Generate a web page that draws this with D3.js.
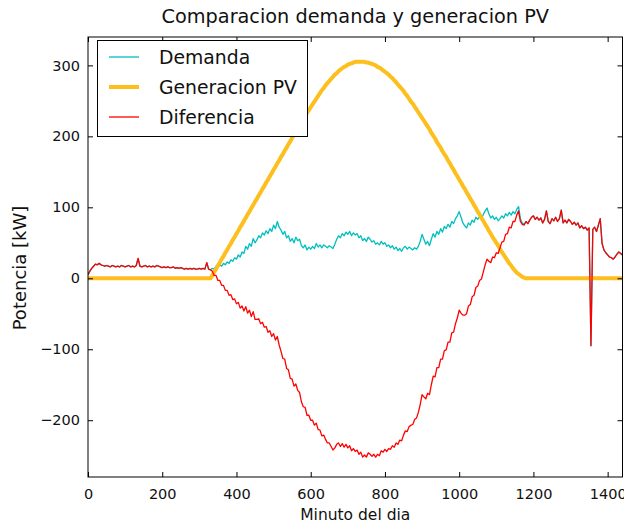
<!DOCTYPE html>
<html>
<head>
<meta charset="utf-8">
<script src="https://cdn.jsdelivr.net/npm/d3@7"></script>
<style>
  html, body { margin: 0; padding: 0; background: #fff; }
  svg { display: block; font-family: "DejaVu Sans", sans-serif; }
</style>
</head>
<body>
<svg id="chart" width="624" height="524"></svg>
<script>
// Demand sampled every 5 minutes from minute 0 to 1440 (kW), one row per hour
const stepMin = 5;
const demanda = [
  5,10,14,17,20,19,21,19,18,17,18,17,
  16,18,17,16,17,16,18,17,16,17,18,16,
  17,16,18,28,17,16,17,18,16,17,16,17,
  16,18,17,16,15,16,15,16,15,15,16,14,
  15,14,15,14,13,14,13,14,13,14,13,13,
  14,13,14,13,22,13,12,14,13,17,15,19,
  17,21,19,23,21,26,24,29,27,33,30,37,
  35,45,41,49,45,56,50,54,60,57,64,61,
  67,63,70,66,75,70,80,72,68,62,66,57,
  60,52,56,50,58,53,55,46,43,47,40,44,
  41,45,42,49,44,47,43,47,45,43,46,44,
  42,48,55,60,57,63,60,65,62,66,60,64,
  61,63,57,60,53,56,52,58,55,51,53,48,
  50,47,52,48,50,45,47,43,46,41,44,39,
  42,38,43,45,41,44,42,40,43,41,45,52,
  62,55,48,52,46,55,63,58,66,62,70,65,
  73,70,76,72,80,77,84,88,94,86,78,74,
  71,78,75,82,79,86,83,87,84,90,95,99,
  91,85,88,83,86,81,84,88,85,91,88,93,
  89,94,91,97,101,84,78,76,80,77,82,86,
  88,83,86,82,85,78,83,95,80,77,84,81,
  86,80,84,96,78,82,78,83,80,76,79,75,
  78,71,74,70,72,68,71,-95,69,72,66,75,
  84,49,40,36,33,30,29,27,30,34,37,35,
  33
];

// PV generation every 5 minutes from minute 330 to 1190 (kW); zero outside
const pvStartMin = 330;
const generacionPV = [
  0,4,9,13,18,22,27,31,36,40,45,49,54,58,
  63,67,72,76,81,85,90,94,99,103,108,112,
  117,121,126,130,135,139,144,148,153,157,162,166,
  171,175,180,184,189,193,198,202,207,211,216,220,
  224,229,233,237,241,245,249,253,257,261,265,268,
  272,275,278,281,284,287,289,292,294,296,298,299,
  301,302,303,304,305,305,305,305,305,305,304,304,
  303,302,301,300,298,297,295,293,291,289,287,284,
  282,279,276,273,270,267,264,260,257,253,249,246,
  242,238,234,230,226,222,218,214,210,205,201,197,
  192,188,184,179,175,171,166,162,157,153,148,144,
  139,135,130,126,121,117,112,108,103,99,94,90,
  85,81,76,72,67,63,58,54,50,46,41,37,
  33,29,25,21,18,14,11,8,6,4,2,1,
  0,0,0
];

const xTicks = [0, 200, 400, 600, 800, 1000, 1200, 1400];
const yTicks = [-200, -100, 0, 100, 200, 300];
const seriesNames = ["Demanda", "Generacion PV", "Diferencia"];
const seriesColors = ["#00bfbf", "#fdbf1e", "#ff0000"];

const minutes = demanda.map((_, i) => i * stepMin);
const pvAt = t => {
  const k = (t - pvStartMin) / stepMin;
  return (k >= 0 && k < generacionPV.length) ? generacionPV[k] : 0;
};
const demandPts = minutes.map((t, i) => [t, demanda[i]]);
const pvPts = minutes.map(t => [t, pvAt(t)]);
const diffPts = minutes.map((t, i) => [t, demanda[i] - pvAt(t)]);

const svg = d3.select("#chart");
const margin = { left: 88, right: 1.5, top: 37, bottom: 47 };
const W = 624, H = 524;
const x = d3.scaleLinear().domain([0, 1440]).range([margin.left, W - margin.right]);
const y = d3.scaleLinear().domain([-280, 340]).range([H - margin.bottom, margin.top]);
const textColor = "#111";

svg.append("defs").append("clipPath").attr("id", "plotArea")
  .append("rect")
  .attr("x", x(0)).attr("y", y(340))
  .attr("width", x(1440) - x(0)).attr("height", y(-280) - y(340));

const line = d3.line().x(d => x(d[0])).y(d => y(d[1]));
const plot = svg.append("g").attr("clip-path", "url(#plotArea)");

plot.append("path").datum(demandPts)
  .attr("d", line).attr("fill", "none")
  .attr("stroke", seriesColors[0]).attr("stroke-width", 1.3)
  .attr("stroke-linejoin", "round");
plot.append("path").datum(pvPts)
  .attr("d", line).attr("fill", "none")
  .attr("stroke", seriesColors[1]).attr("stroke-width", 4)
  .attr("stroke-linejoin", "round");
plot.append("path").datum(diffPts)
  .attr("d", line).attr("fill", "none")
  .attr("stroke", seriesColors[2]).attr("stroke-width", 1.3)
  .attr("stroke-linejoin", "round");

// Axes with inward ticks on all four sides
const tickLen = 5;
const fmt = d => d < 0 ? "\u2212" + Math.abs(d) : String(d);
const axB = svg.append("g").attr("transform", `translate(0,${y(-280)})`)
  .call(d3.axisBottom(x).tickValues(xTicks).tickSizeInner(-tickLen).tickSizeOuter(0).tickPadding(12).tickFormat(fmt));
const axT = svg.append("g").attr("transform", `translate(0,${y(340)})`)
  .call(d3.axisTop(x).tickValues(xTicks).tickSizeInner(-tickLen).tickSizeOuter(0).tickFormat(""));
const axL = svg.append("g").attr("transform", `translate(${x(0)},0)`)
  .call(d3.axisLeft(y).tickValues(yTicks).tickSizeInner(-tickLen).tickSizeOuter(0).tickPadding(8).tickFormat(fmt));
const axR = svg.append("g").attr("transform", `translate(${x(1440)},0)`)
  .call(d3.axisRight(y).tickValues(yTicks).tickSizeInner(-tickLen).tickSizeOuter(0).tickFormat(""));

[axB, axT, axL, axR].forEach(g => {
  g.select(".domain").remove();
  g.selectAll(".tick line").attr("stroke", "#000").attr("stroke-width", 1);
  g.selectAll(".tick text").attr("fill", textColor)
    .style("font-family", "'DejaVu Sans', sans-serif").style("font-size", "14.5px");
});

// Frame
svg.append("rect")
  .attr("x", x(0)).attr("y", y(340))
  .attr("width", x(1440) - x(0)).attr("height", y(-280) - y(340))
  .attr("fill", "none").attr("stroke", "#000").attr("stroke-width", 1);

// Title and axis labels
svg.append("text").attr("x", (x(0) + x(1440)) / 2).attr("y", 23)
  .attr("text-anchor", "middle").attr("fill", textColor)
  .style("font-size", "19.3px").text("Comparacion demanda y generacion PV");
svg.append("text").attr("x", (x(0) + x(1440)) / 2).attr("y", 520)
  .attr("text-anchor", "middle").attr("fill", textColor)
  .style("font-size", "15.5px").text("Minuto del dia");
svg.append("text")
  .attr("transform", "translate(26,268) rotate(-90)")
  .attr("text-anchor", "middle").attr("fill", textColor)
  .style("font-size", "18px").text("Potencia [kW]");

// Legend
const lg = svg.append("g");
lg.append("rect").attr("x", 97.5).attr("y", 40.5).attr("width", 210).attr("height", 96)
  .attr("fill", "#fff").attr("stroke", "#000").attr("stroke-width", 1);
const lgWidths = [1.3, 4, 1.3];
seriesNames.forEach((name, i) => {
  const cy = 57 + i * 30;
  lg.append("line").attr("x1", 109).attr("x2", 139).attr("y1", cy).attr("y2", cy)
    .attr("stroke", seriesColors[i]).attr("stroke-width", lgWidths[i]);
  lg.append("text").attr("x", 159).attr("y", cy + 6.5).attr("fill", textColor)
    .style("font-size", "18.8px").text(name);
});
</script>
</body>
</html>
